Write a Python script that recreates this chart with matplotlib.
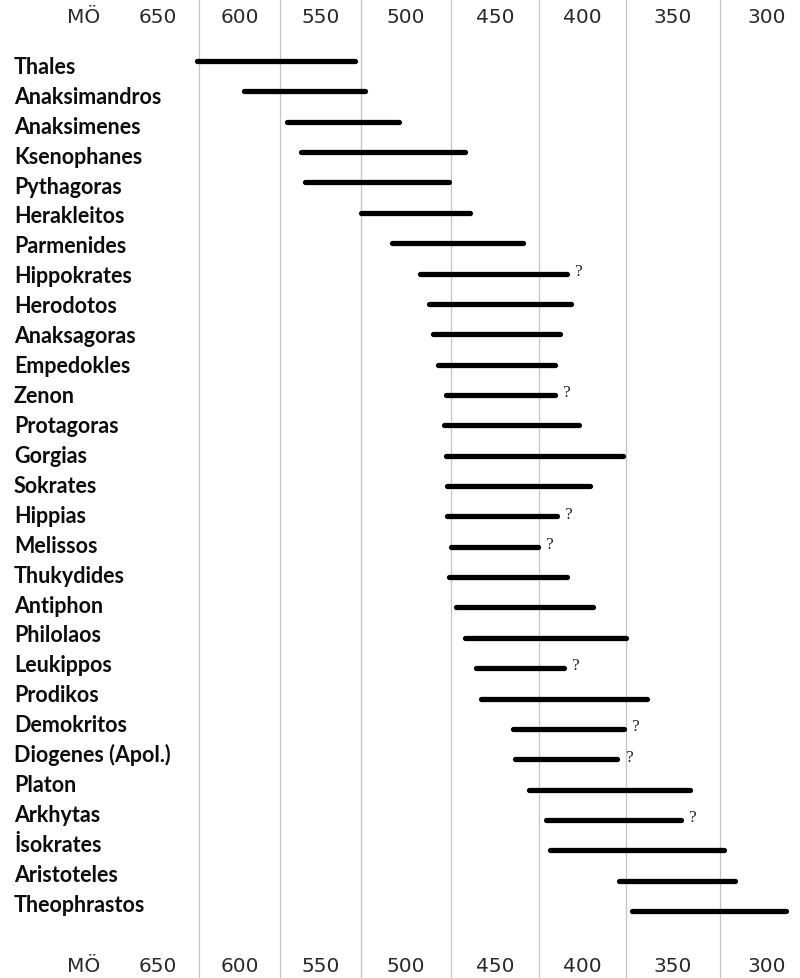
import numpy as np
import matplotlib
matplotlib.use("Agg")
import matplotlib.pyplot as plt
import matplotlib.transforms as mtrans

# ---------------- data (years BC) ----------------
names = ["Thales", "Anaksimandros", "Anaksimenes", "Ksenophanes", "Pythagoras",
         "Herakleitos", "Parmenides", "Hippokrates", "Herodotos", "Anaksagoras",
         "Empedokles", "Zenon", "Protagoras", "Gorgias", "Sokrates", "Hippias",
         "Melissos", "Thukydides", "Antiphon", "Philolaos", "Leukippos", "Prodikos",
         "Demokritos", "Diogenes (Apol.)", "Platon", "Arkhytas", "İsokrates",
         "Aristoteles", "Theophrastos"]
start = [626, 597, 571, 562, 560, 525, 508, 492, 487, 485, 482, 478, 479, 478,
         477, 477, 475, 476, 472, 467, 461, 458, 440, 439, 431, 421, 419, 379, 372]
end = [529, 523, 504, 467, 476, 464, 434, 409, 407, 413, 416, 416, 402, 377,
       396, 415, 426, 409, 394, 375, 411, 364, 376, 380, 341, 346, 323, 317, 290]
uncertain = ["Hippokrates", "Zenon", "Hippias", "Melissos", "Leukippos",
             "Demokritos", "Diogenes (Apol.)", "Arkhytas"]
tick_values = [650, 600, 550, 500, 450, 400, 350, 300]
grid_values = [625, 575, 525, 475, 425, 375, 325]
era_label = "MÖ"

# ---------------- layout: piecewise-linear time axis ----------------
knot_px = np.array([0.0, 198.7, 280.3, 361.0, 451.0, 539.3, 626.0, 720.0, 800.0])
knot_yr = np.array([746.8, 625, 575, 525, 475, 425, 375, 325, 282.4])


def fwd(v):
    v = np.asarray(v, dtype=float)
    return -np.interp(v, knot_yr[::-1], knot_px[::-1])


def inv(p):
    p = np.asarray(p, dtype=float)
    return np.interp(-p, knot_px, knot_yr)


W, H = 800, 979
fig = plt.figure(figsize=(W / 100, H / 100), dpi=100)
ax = fig.add_axes([0, 0, 1, 1])
ax.set_xscale("function", functions=(fwd, inv))
ax.set_xlim(knot_yr[0], knot_yr[-1])
if ax.transData.transform((knot_yr[0], 0))[0] > ax.transData.transform((knot_yr[-1], 0))[0]:
    ax.invert_xaxis()

row0_px, row_px = 66.0, 29.93
ax.set_ylim((H - row0_px) / row_px, -row0_px / row_px)
ax.set_axis_off()

# gridlines
for g in grid_values:
    ax.axvline(g, color="#c4c4c4", lw=0.9, zorder=1)

# bars
n = len(names)
idx = np.arange(n)
bar_y = -0.134 + 1.0144 * idx
for y, s, e, nm in zip(bar_y, start, end, names):
    ax.plot([s, e], [y, y], color="black", lw=3.8, solid_capstyle="round", zorder=3)
    if nm in uncertain:
        ax.annotate("?", xy=(e, y), xytext=(8, 2), textcoords="offset points",
                    ha="center", va="center", fontsize=12.5,
                    family=["Liberation Serif", "DejaVu Serif"], color="#222222")

# names
name_tr = mtrans.blended_transform_factory(ax.transAxes, ax.transData)
for i, nm in enumerate(names):
    ax.text(14 / W, i + 0.26, nm, transform=name_tr, ha="left", va="baseline",
            fontsize=15.5, fontweight="bold", family=["Lato", "DejaVu Sans"],
            color="#0d0d0d")

# top / bottom time labels
tick_tr = mtrans.blended_transform_factory(ax.transData, ax.transAxes)
lab_tr = ax.transAxes
for yb in (1 - 22.7 / H, 1 - 972.3 / H):
    for v in tick_values:
        ax.text(v, yb, str(v), transform=tick_tr, ha="center", va="baseline",
                fontsize=14.5, family=["DejaVu Sans"], color="#2a2a2a")
    ax.text(84 / W, yb, era_label, transform=lab_tr, ha="center", va="baseline",
            fontsize=14.5, family=["DejaVu Sans"], color="#2a2a2a")

fig.savefig("out.png", dpi=100, facecolor="white")
